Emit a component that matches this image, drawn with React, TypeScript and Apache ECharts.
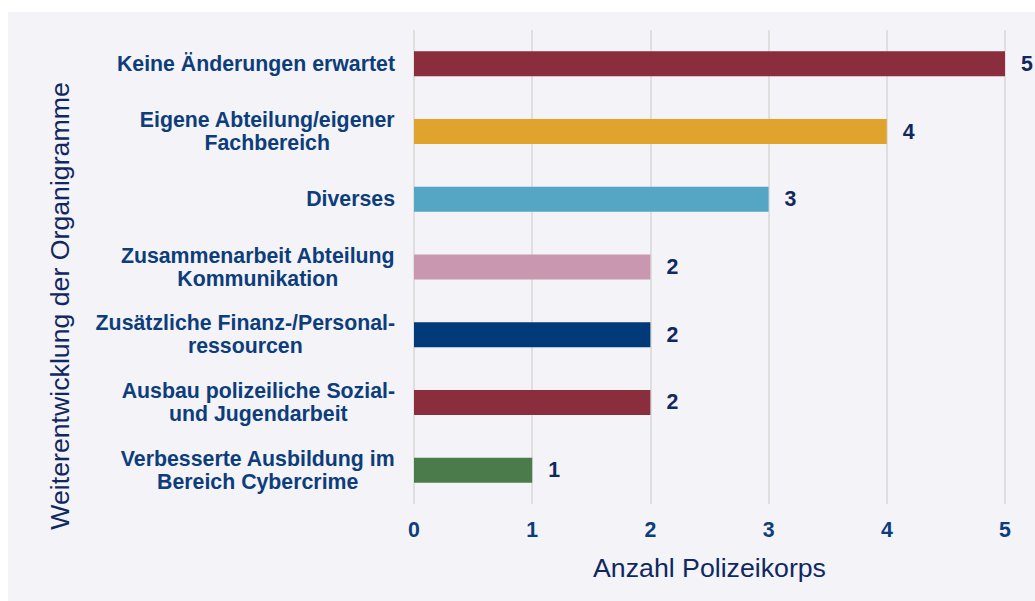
import React, { useEffect, useRef } from "react";
import * as echarts from "echarts";

const categories = [
  "Keine Änderungen erwartet",
  "Eigene Abteilung/eigener\nFachbereich",
  "Diverses",
  "Zusammenarbeit Abteilung\nKommunikation",
  "Zusätzliche Finanz-/Personal-\nressourcen",
  "Ausbau polizeiliche Sozial-\nund Jugendarbeit",
  "Verbesserte Ausbildung im\nBereich Cybercrime",
];
const values = [5, 4, 3, 2, 2, 2, 1];
const barColors = ["#8a2d3d", "#e0a32e", "#55a5c4", "#c997b0", "#003a78", "#8a2d3d", "#4b7b4b"];
const xTicks = [0, 1, 2, 3, 4, 5];
const xTitle = "Anzahl Polizeikorps";
const yTitle = "Weiterentwicklung der Organigramme";

const FONT = '"Liberation Sans", Arial, sans-serif';
const LABEL_BLUE = "#0d3d7a";
const DARK_BLUE = "#10285f";

export default function App() {
  const ref = useRef<HTMLDivElement>(null);
  useEffect(() => {
    if (!ref.current) return;
    const chart = echarts.init(ref.current, undefined, { renderer: "svg" });
    chart.setOption({
      animation: false,
      backgroundColor: "#f3f3f8",
      textStyle: { fontFamily: FONT },
      grid: { left: 406, right: 30, top: 18, bottom: 97, containLabel: false },
      xAxis: {
        type: "value",
        min: xTicks[0],
        max: xTicks[xTicks.length - 1],
        interval: 1,
        name: xTitle,
        nameLocation: "middle",
        nameGap: 50,
        nameTextStyle: { fontSize: 26.7, color: DARK_BLUE, fontFamily: FONT },
        axisLine: { show: false },
        axisTick: { show: false },
        axisLabel: {
          margin: 15,
          fontSize: 21.3,
          fontWeight: "bold",
          color: LABEL_BLUE,
          fontFamily: FONT,
        },
        splitLine: { show: true, lineStyle: { color: "#d9d9d9", width: 1.5 } },
      },
      yAxis: {
        type: "category",
        data: categories,
        inverse: true,
        axisLine: { show: false },
        axisTick: { show: false },
        splitLine: { show: false },
        axisLabel: {
          margin: 19,
          fontFamily: FONT,
          formatter: (v: string) =>
            v
              .split("\n")
              .map((l) => `{c|${l}}`)
              .join("\n"),
          rich: {
            c: {
              align: "center",
              fontSize: 21.3,
              fontWeight: "bold",
              color: LABEL_BLUE,
              lineHeight: 23,
              fontFamily: FONT,
            },
          },
        },
      },
      graphic: [
        {
          type: "text",
          x: 52,
          y: 294,
          rotation: Math.PI / 2,
          style: {
            text: yTitle,
            font: `26.7px ${FONT}`,
            fill: DARK_BLUE,
            textAlign: "center",
            textVerticalAlign: "middle",
          },
        },
      ],
      series: [
        {
          type: "bar",
          barWidth: 25,
          data: values.map((v, i) => ({ value: v, itemStyle: { color: barColors[i] } })),
          label: {
            show: true,
            position: "right",
            distance: 16,
            fontSize: 21.3,
            fontWeight: "bold",
            color: DARK_BLUE,
            fontFamily: FONT,
          },
        },
      ],
    });
    return () => chart.dispose();
  }, []);
  return (
    <div style={{ position: "fixed", left: 0, top: 0, width: 1035, height: 601, background: "#ffffff" }}>
      <div ref={ref} style={{ position: "absolute", left: 8, top: 12, width: 1027, height: 589 }} />
    </div>
  );
}
